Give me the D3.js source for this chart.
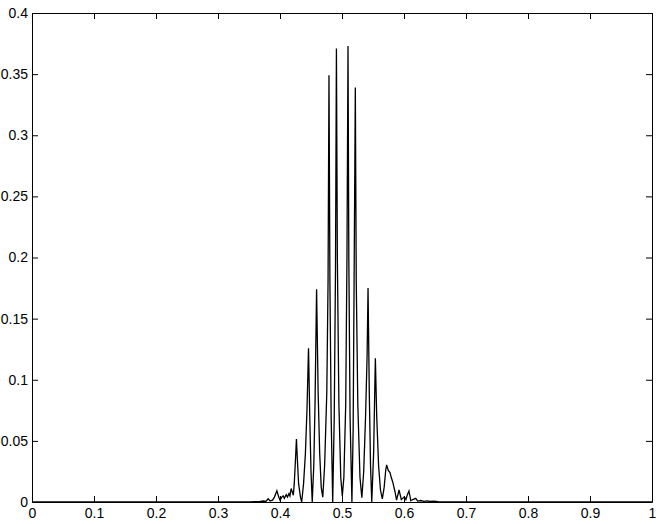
<!DOCTYPE html>
<html>
<head>
<meta charset="utf-8">
<script src="https://cdn.jsdelivr.net/npm/d3@7"></script>
<style>
body { margin: 0; background: #fff; }
.axis text { font-family: "Liberation Sans", Arial, sans-serif; font-size: 14px; fill: #000; }
.axis line, .axis path { stroke: #000; }
.curve { fill: none; stroke: #000; stroke-width: 1.3; }
</style>
</head>
<body>
<script>
width = 661;
height = 524;

// tick values and labels
var xTicks = [0, 0.1, 0.2, 0.3, 0.4, 0.5, 0.6, 0.7, 0.8, 0.9, 1];
var xTickLabels = ['0', '0.1', '0.2', '0.3', '0.4', '0.5', '0.6', '0.7', '0.8', '0.9', '1'];
var yTicks = [0, 0.05, 0.1, 0.15, 0.2, 0.25, 0.3, 0.35, 0.4];
var yTickLabels = ['0', '0.05', '0.1', '0.15', '0.2', '0.25', '0.3', '0.35', '0.4'];

// curve
var xs = [0, 0.35, 0.36, 0.368, 0.373, 0.377, 0.381, 0.384, 0.388, 0.391, 0.395, 0.398, 0.4,
    0.403, 0.405, 0.407, 0.41, 0.412, 0.4145, 0.416, 0.418, 0.4215,
    0.423, 0.425, 0.4265, 0.428, 0.43, 0.433, 0.435,
    0.438, 0.441, 0.4435, 0.446, 0.448, 0.45, 0.452,
    0.4545, 0.4565, 0.459, 0.4615, 0.464, 0.4665, 0.469,
    0.472, 0.4755, 0.4775, 0.479, 0.4805, 0.4825, 0.485,
    0.4875, 0.4895, 0.491, 0.4925, 0.495, 0.498, 0.5005,
    0.503, 0.506, 0.508, 0.5097, 0.511, 0.513, 0.516,
    0.518, 0.5195, 0.5215, 0.523, 0.5255, 0.529, 0.532,
    0.535, 0.538, 0.5405, 0.542, 0.544, 0.546, 0.548,
    0.551, 0.5538, 0.556, 0.559, 0.562, 0.565,
    0.568, 0.5705, 0.572, 0.5745, 0.5774, 0.5795, 0.5817, 0.5855, 0.588,
    0.592, 0.5957, 0.598, 0.6005, 0.603, 0.6055, 0.608, 0.611, 0.614, 0.619,
    0.622, 0.627, 0.632, 0.637, 0.642, 0.648, 0.655, 0.66, 1];
var ys = [0, 0, 0.0003, 0.0005, 0.0008, 0.0004, 0.0027, 0.0008, 0.0015, 0.004, 0.0092, 0.004, 0.0016,
    0.004, 0.005, 0.003, 0.006, 0.004, 0.0068, 0.005, 0.011, 0.0055,
    0.015, 0.035, 0.0515, 0.035, 0.015, 0.004, 0,
    0.015, 0.04, 0.075, 0.1257, 0.07, 0.025, 0,
    0.03, 0.08, 0.174, 0.09, 0.04, 0.012, 0.004,
    0.03, 0.09, 0.18, 0.349, 0.18, 0.07, 0,
    0.07, 0.19, 0.371, 0.2, 0.08, 0.02, 0.005,
    0.02, 0.08, 0.2, 0.373, 0.2, 0.07, 0,
    0.06, 0.18, 0.339, 0.18, 0.08, 0.02, 0.0035,
    0.025, 0.07, 0.12, 0.175, 0.09, 0.03, 0,
    0.04, 0.1175, 0.07, 0.03, 0.01, 0.0025,
    0.012, 0.026, 0.0303, 0.026, 0.024, 0.02, 0.0166, 0.0084, 0.0016,
    0.0098, 0.002, 0.003, 0.0043, 0.002, 0.006, 0.009, 0.001, 0.002, 0.003,
    0.0008, 0.0012, 0.0005, 0.0009, 0.0004, 0.0006, 0.0002, 0, 0];

var svg = d3.select('body')
    .append('svg')
    .attr('width', width)
    .attr('height', height);

//scales
var xScale = d3.scaleLinear()
    .domain([0, 1])
    .range([32, 652]);

var yScale = d3.scaleLinear()
    .domain([0, 0.4])
    .range([502, 13]);

//line
svg.append('path')
    .datum(xs.map((x, i) => [x, ys[i]]))
    .attr('class', 'curve')
    .attr('d', d3.line()
        .x(d => xScale(d[0]))
        .y(d => yScale(d[1])));

//axes, ticks pointing in on all four sides
svg.append('g')
    .attr('class', 'axis')
    .attr('transform', 'translate(0,502)')
    .call(d3.axisBottom(xScale)
        .tickValues(xTicks)
        .tickFormat((d, i) => xTickLabels[i])
        .tickSizeInner(-6).tickSizeOuter(0).tickPadding(6));

svg.append('g')
    .attr('class', 'axis')
    .attr('transform', 'translate(0,13)')
    .call(d3.axisTop(xScale)
        .tickValues(xTicks)
        .tickFormat('')
        .tickSizeInner(-6).tickSizeOuter(0));

svg.append('g')
    .attr('class', 'axis')
    .attr('transform', 'translate(32,0)')
    .call(d3.axisLeft(yScale)
        .tickValues(yTicks)
        .tickFormat((d, i) => yTickLabels[i])
        .tickSizeInner(-6).tickSizeOuter(0).tickPadding(4));

svg.append('g')
    .attr('class', 'axis')
    .attr('transform', 'translate(652,0)')
    .call(d3.axisRight(yScale)
        .tickValues(yTicks)
        .tickFormat('')
        .tickSizeInner(-6).tickSizeOuter(0));
</script>
</body>
</html>
